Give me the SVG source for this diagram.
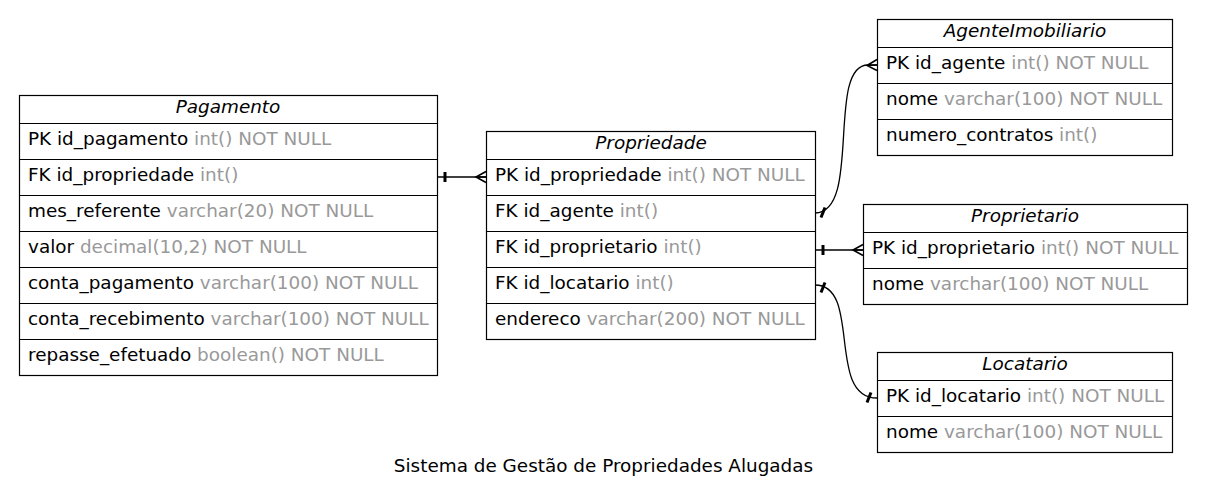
<svg xmlns="http://www.w3.org/2000/svg" width="1206" height="502" viewBox="0 0 1206 502">
<style>
  text { font-family: "DejaVu Sans", "Liberation Sans", sans-serif; font-size: 18.4px; fill: #000; }
  .hd { font-style: italic; text-anchor: middle; }
  .ty { fill: #999999; }
  .box { fill: #fff; stroke: #000; stroke-width: 1.2; }
  .sep { stroke: #000; stroke-width: 1.2; }
  .edge { fill: none; stroke: #000; stroke-width: 1.3; }
  .tee { stroke: #000; stroke-width: 3; }
  .crow { fill: none; stroke: #000; stroke-width: 1.6; }
  .title { text-anchor: middle; }
</style>
<rect width="1206" height="502" fill="#fff"/>

<g id="connectors">
  <!-- Pagamento.id_propriedade -> Propriedade.id_propriedade -->
  <path class="edge" d="M437,177 L486,177"/>
  <line class="tee" x1="445" y1="172" x2="445" y2="182"/>
  <path class="crow" d="M486,171.5 L476,177 L486,182.5 M476,177 L486,177"/>

  <!-- Propriedade.id_agente -> AgenteImobiliario.id_agente -->
  <path class="edge" d="M815,213 C 862,213 826,65 868,65 L877,65"/>
  <line class="tee" x1="821" y1="217.5" x2="825" y2="207.5"/>
  <path class="crow" d="M877,59.5 L867,65.5 L877,70.5 M867,65.5 L877,65"/>

  <!-- Propriedade.id_proprietario -> Proprietario.id_proprietario -->
  <path class="edge" d="M815,250 L863,250"/>
  <line class="tee" x1="823" y1="245" x2="823" y2="255"/>
  <path class="crow" d="M863,244.5 L853,250 L863,255.5 M853,250 L863,250"/>

  <!-- Propriedade.id_locatario -> Locatario.id_locatario -->
  <path class="edge" d="M815,285 C 862,285 826,398 877,398"/>
  <line class="tee" x1="821" y1="292.5" x2="825" y2="282.5"/>
  <line class="tee" x1="867" y1="402.5" x2="871" y2="392.5"/>
</g>

<g id="Pagamento">
  <rect class="box" x="19.5" y="95.5" width="418" height="280"/>
  <line class="sep" x1="19.5" y1="123.5" x2="437.5" y2="123.5"/>
  <line class="sep" x1="19.5" y1="159.5" x2="437.5" y2="159.5"/>
  <line class="sep" x1="19.5" y1="195.5" x2="437.5" y2="195.5"/>
  <line class="sep" x1="19.5" y1="231.5" x2="437.5" y2="231.5"/>
  <line class="sep" x1="19.5" y1="267.5" x2="437.5" y2="267.5"/>
  <line class="sep" x1="19.5" y1="303.5" x2="437.5" y2="303.5"/>
  <line class="sep" x1="19.5" y1="339.5" x2="437.5" y2="339.5"/>
  <text class="hd" x="228" y="113">Pagamento</text>
  <text x="28" y="145">PK id_pagamento<tspan class="ty"> int() NOT NULL</tspan></text>
  <text x="28" y="181">FK id_propriedade<tspan class="ty"> int()</tspan></text>
  <text x="28" y="217">mes_referente<tspan class="ty"> varchar(20) NOT NULL</tspan></text>
  <text x="28" y="253">valor<tspan class="ty"> decimal(10,2) NOT NULL</tspan></text>
  <text x="28" y="289">conta_pagamento<tspan class="ty"> varchar(100) NOT NULL</tspan></text>
  <text x="28" y="325">conta_recebimento<tspan class="ty"> varchar(100) NOT NULL</tspan></text>
  <text x="28" y="361">repasse_efetuado<tspan class="ty"> boolean() NOT NULL</tspan></text>
</g>

<g id="Propriedade">
  <rect class="box" x="486.5" y="131.5" width="329" height="208"/>
  <line class="sep" x1="486.5" y1="159.5" x2="815.5" y2="159.5"/>
  <line class="sep" x1="486.5" y1="195.5" x2="815.5" y2="195.5"/>
  <line class="sep" x1="486.5" y1="231.5" x2="815.5" y2="231.5"/>
  <line class="sep" x1="486.5" y1="267.5" x2="815.5" y2="267.5"/>
  <line class="sep" x1="486.5" y1="303.5" x2="815.5" y2="303.5"/>
  <text class="hd" x="651" y="149">Propriedade</text>
  <text x="495" y="181">PK id_propriedade<tspan class="ty"> int() NOT NULL</tspan></text>
  <text x="495" y="217">FK id_agente<tspan class="ty"> int()</tspan></text>
  <text x="495" y="253">FK id_proprietario<tspan class="ty"> int()</tspan></text>
  <text x="495" y="289">FK id_locatario<tspan class="ty"> int()</tspan></text>
  <text x="495" y="325">endereco<tspan class="ty"> varchar(200) NOT NULL</tspan></text>
</g>

<g id="AgenteImobiliario">
  <rect class="box" x="877.5" y="19.5" width="295" height="136"/>
  <line class="sep" x1="877.5" y1="47.5" x2="1172.5" y2="47.5"/>
  <line class="sep" x1="877.5" y1="83.5" x2="1172.5" y2="83.5"/>
  <line class="sep" x1="877.5" y1="119.5" x2="1172.5" y2="119.5"/>
  <text class="hd" x="1025" y="37">AgenteImobiliario</text>
  <text x="886" y="69">PK id_agente<tspan class="ty"> int() NOT NULL</tspan></text>
  <text x="886" y="105">nome<tspan class="ty"> varchar(100) NOT NULL</tspan></text>
  <text x="886" y="141">numero_contratos<tspan class="ty"> int()</tspan></text>
</g>

<g id="Proprietario">
  <rect class="box" x="863.5" y="204.5" width="324" height="100"/>
  <line class="sep" x1="863.5" y1="232.5" x2="1187.5" y2="232.5"/>
  <line class="sep" x1="863.5" y1="268.5" x2="1187.5" y2="268.5"/>
  <text class="hd" x="1025" y="222">Proprietario</text>
  <text x="872" y="254">PK id_proprietario<tspan class="ty"> int() NOT NULL</tspan></text>
  <text x="872" y="290">nome<tspan class="ty"> varchar(100) NOT NULL</tspan></text>
</g>

<g id="Locatario">
  <rect class="box" x="877.5" y="352.5" width="295" height="100"/>
  <line class="sep" x1="877.5" y1="380.5" x2="1172.5" y2="380.5"/>
  <line class="sep" x1="877.5" y1="416.5" x2="1172.5" y2="416.5"/>
  <text class="hd" x="1025" y="370">Locatario</text>
  <text x="886" y="402">PK id_locatario<tspan class="ty"> int() NOT NULL</tspan></text>
  <text x="886" y="438">nome<tspan class="ty"> varchar(100) NOT NULL</tspan></text>
</g>

<text class="title" x="603.5" y="472">Sistema de Gestão de Propriedades Alugadas</text>
</svg>
